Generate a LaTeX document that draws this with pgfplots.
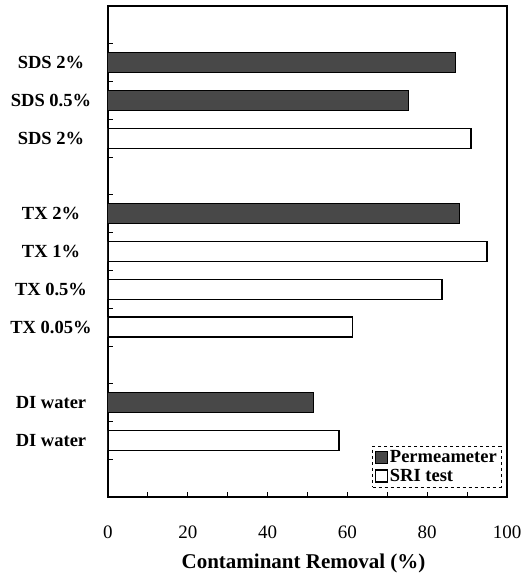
\documentclass[border=0pt]{standalone}
\usepackage{fontspec}
\setmainfont{Liberation Serif}
\usepackage{pgfplots}
\pgfplotsset{compat=1.18}
\definecolor{permfill}{RGB}{72,72,72}
\begin{document}
\begin{tikzpicture}
\useasboundingbox (-108pt,-76pt) rectangle (415pt,497pt);
\begin{axis}[
  at={(0,0)}, anchor=south west,
  scale only axis, width=399pt, height=491pt,
  xmin=0, xmax=100, ymin=0.5, ymax=13.5,
  y dir=reverse,
  xbar, bar shift=0pt, bar width=0.53,
  axis line style={line width=1.6pt},
  tick align=inside,
  xtick pos=bottom, ytick pos=left,
  xtick={0,20,...,100}, minor x tick num=1,
  major tick length=5pt, minor tick length=5pt,
  tick style={line width=0.8pt, black},
  /pgf/number format/assume math mode=true,
  xticklabel style={font=\fontsize{19}{22}\selectfont, anchor=base, yshift=-41pt},
  ytick={1.5,2.5,...,12.5},
  yticklabels={,,,,,,,,,,,},
  extra y ticks={2,3,4,6,7,8,9,11,12},
  extra y tick labels={SDS 2\%, SDS 0.5\%, SDS 2\%, TX 2\%, TX 1\%, TX 0.5\%, TX 0.05\%, DI water, DI water},
  extra y tick style={tick style={draw=none},
    yticklabel style={font=\bfseries\fontsize{18.5}{21}\selectfont, anchor=center, xshift=-57pt}},
  xlabel={\bfseries Contaminant Removal (\%)},
  xlabel style={font=\fontsize{21}{24}\selectfont, at={(axis description cs:0.5,0)}, anchor=base, yshift=-71pt, xshift=-4pt},
  legend style={at={(1,0)}, anchor=south east, xshift=-6pt, yshift=10pt,
    draw=black, dashed, line width=0.5pt, font=\bfseries\fontsize{18.5}{21}\selectfont,
    inner xsep=2pt, inner ysep=2pt, row sep=1pt, cells={anchor=west}},
  legend image code/.code={\draw[#1, solid] (0pt,-6pt) rectangle (12pt,6pt);},
]
\addplot[draw=black, line width=1pt, fill=permfill] coordinates {(87.2,2) (75.2,3) (88.0,6) (51.4,11)};
\addlegendentry{Permeameter}
\addplot[draw=black, line width=1.3pt, fill=white] coordinates {(91.0,4) (95.0,7) (83.7,8) (61.2,9) (57.9,12)};
\addlegendentry{SRI test}
\end{axis}
\end{tikzpicture}
\end{document}
